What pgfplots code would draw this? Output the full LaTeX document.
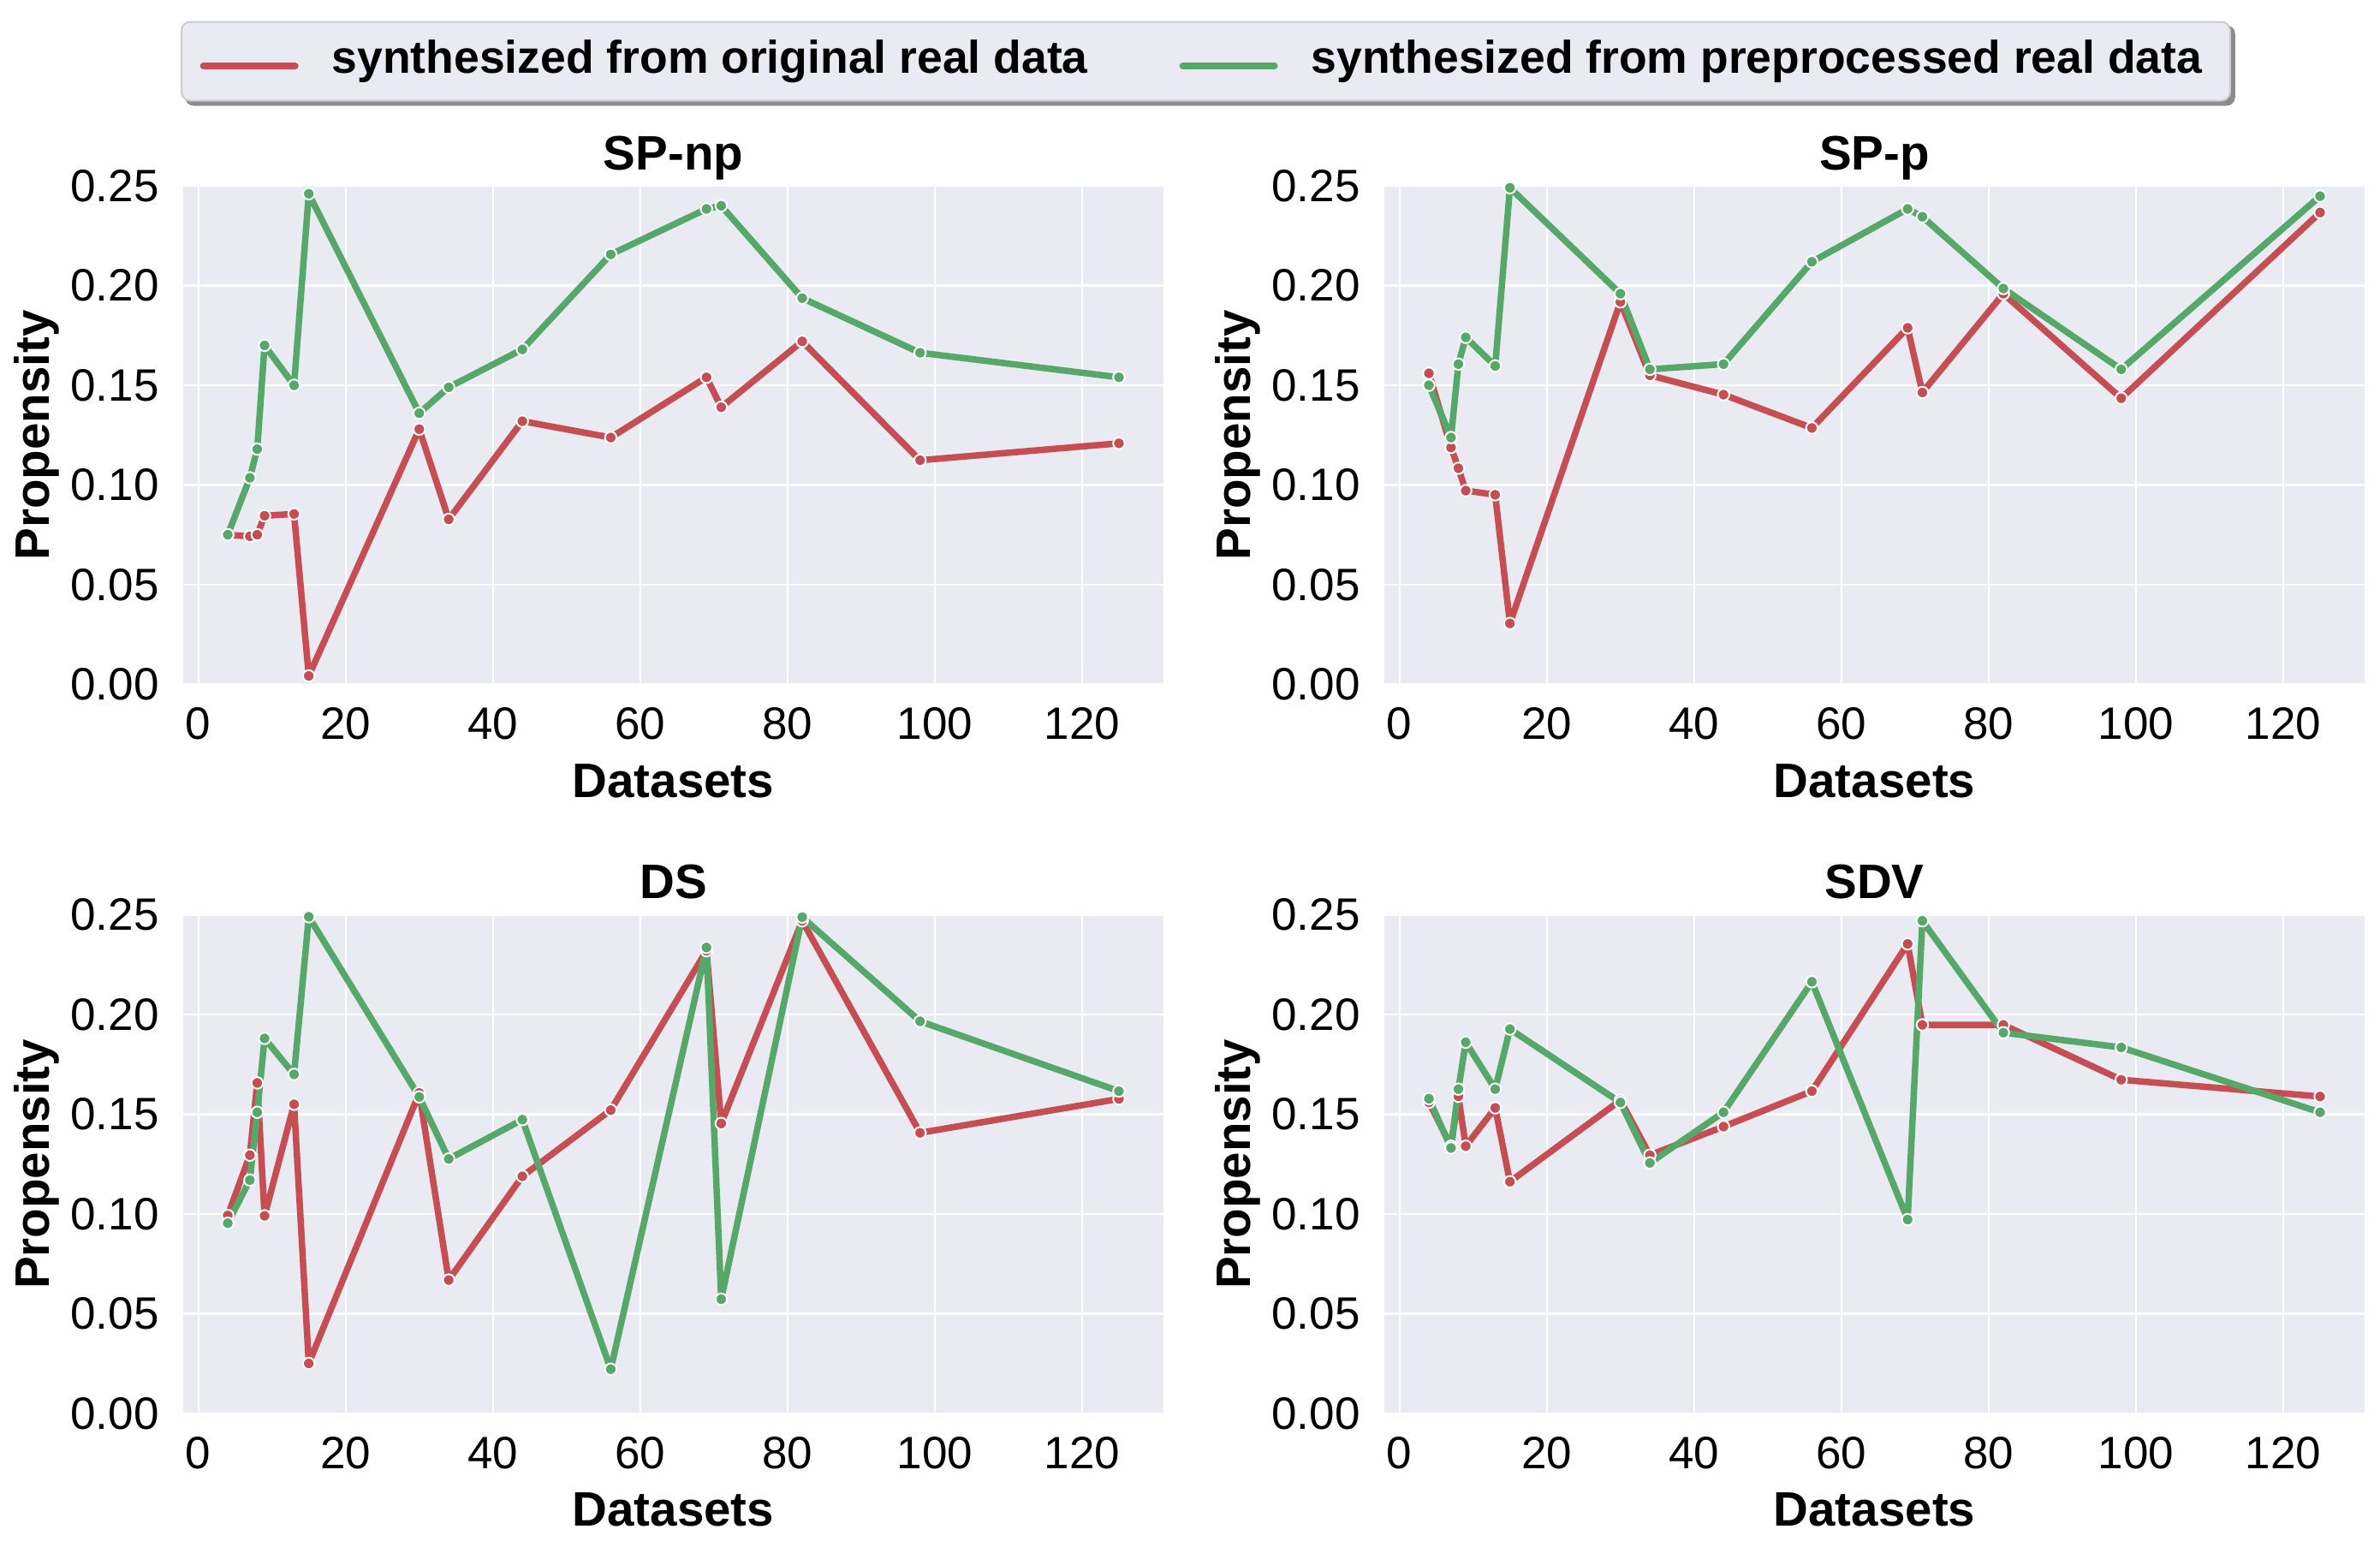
\documentclass[border=0pt]{standalone}
\usepackage{fontspec}
\setmainfont{Liberation Sans}
\usepackage{pgfplots}
\usepackage{pgfplotstable}
\pgfplotsset{compat=1.18}
\usetikzlibrary{backgrounds}

\definecolor{bgcol}{HTML}{EAEAF2}
\definecolor{sred}{HTML}{C44E52}
\definecolor{sgreen}{HTML}{55A868}

% propensity per dataset size; O = from original, P = from preprocessed
\pgfplotstableread{
x   npO     npP     pO      pP      dsO     dsP     sdvO    sdvP
4   0.0750  0.0751  0.1560  0.1500  0.0993  0.0954  0.1560  0.1578
7   0.0743  0.1036  0.1188  0.1238  0.1295  0.1170  0.1340  0.1331
8   0.0751  0.1180  0.1084  0.1606  0.1657  0.1510  0.1590  0.1626
9   0.0846  0.1700  0.0972  0.1740  0.0991  0.1880  0.1340  0.1861
13  0.0855  0.1500  0.0951  0.1597  0.1550  0.1700  0.1532  0.1626
15  0.0043  0.2460  0.0306  0.2490  0.0251  0.2490  0.1162  0.1927
30  0.1280  0.1360  0.1918  0.1959  0.1607  0.1587  0.1570  0.1559
34  0.0828  0.1490  0.1550  0.1580  0.0669  0.1276  0.1295  0.1256
44  0.1320  0.1680  0.1453  0.1606  0.1189  0.1473  0.1438  0.1510
56  0.1238  0.2156  0.1286  0.2119  0.1521  0.0222  0.1616  0.2164
69  0.1540  0.2384  0.1788  0.2384  0.2320  0.2336  0.2354  0.0972
71  0.1390  0.2400  0.1464  0.2345  0.1454  0.0573  0.1948  0.2470
82  0.1720  0.1937  0.1959  0.1985  0.2470  0.2488  0.1948  0.1909
98  0.1124  0.1663  0.1435  0.1580  0.1407  0.1966  0.1673  0.1835
125 0.1209  0.1540  0.2366  0.2448  0.1577  0.1616  0.1589  0.1510
}\data

\pgfplotsset{
  panel/.style={
    scale only axis, width=229pt, height=116.5pt,
    anchor=north west,
    xmin=-2.05, xmax=131.05, ymin=0, ymax=0.25,
    xtick={0,20,...,120}, ytick={0,0.05,0.1,0.15,0.2,0.25},
    /pgf/number format/assume math mode=true,
    axis background/.style={fill=bgcol},
    axis line style={draw=none}, tick style={draw=none}, major tick length=0pt,
    grid=major, major grid style={white, line width=0.45pt},
    ticklabel style={font=\fontsize{10.6}{12}\selectfont, inner sep=0pt},
    xticklabel style={anchor=north, yshift=-5.2pt},
    yticklabel style={anchor=east, xshift=-5.5pt,
      /pgf/number format/fixed, /pgf/number format/fixed zerofill,
      /pgf/number format/precision=2},
    every axis title/.style={at={(0.5,1)}, anchor=base, yshift=3.8pt, inner sep=0pt,
      font=\bfseries\fontsize{11.3}{13}\selectfont},
    every axis x label/.style={at={(axis description cs:0.5,0)}, anchor=base,
      yshift=-26.3pt, inner sep=0pt, font=\bfseries\fontsize{11.3}{13}\selectfont},
    every axis y label/.style={at={(axis description cs:0,0.5)}, xshift=-28.7pt,
      rotate=90, anchor=south, inner sep=0pt, font=\bfseries\fontsize{11.3}{13}\selectfont},
    xlabel={Datasets}, ylabel={Propensity},
  },
  orig/.style={sred, line width=1.5pt, line join=round, mark=*, mark size=1.35pt,
    mark options={fill=sred, draw=white, line width=0.4pt}},
  prep/.style={sgreen, line width=1.5pt, line join=round, mark=*, mark size=1.35pt,
    mark options={fill=sgreen, draw=white, line width=0.4pt}},
}

\begin{document}
\begin{tikzpicture}
\path[use as bounding box] (0,0) rectangle (556pt,-359.8pt);

\begin{axis}[panel, at={(42.8pt,-43.4pt)}, title={SP-np},
  legend columns=2,
  legend style={name=leg, at={(1.0432,1.2498)}, anchor=center,
    draw=black!20, fill=bgcol, rounded corners=2pt,
    inner xsep=4.3pt, inner ysep=4.2pt, /tikz/column sep=0pt,
    cells={anchor=west},
    font=\bfseries\fontsize{10.7}{12}\selectfont,
    nodes={inner sep=0pt, text height=7.8pt, text depth=2.2pt}},
  legend image code/.code={%
    \draw[#1, mark=none, line width=1.6pt, line cap=round] (0.8pt,-1.1pt) -- (22.2pt,-1.1pt);},
]
\addplot[orig] table[x=x, y=npO] {\data};
\addlegendentry{\rule{7.8pt}{0pt}synthesized from original real data\rule{21.4pt}{0pt}}
\addplot[prep] table[x=x, y=npP] {\data};
\addlegendentry{\rule{7.8pt}{0pt}synthesized from preprocessed real data\rule{2.2pt}{0pt}}
\end{axis}

% shadow behind the legend frame
\begin{pgfonlayer}{background}
\fill[black!45, rounded corners=2pt] ([shift={(1pt,-1pt)}]leg.south west) rectangle ([shift={(1pt,-1pt)}]leg.north east);
\end{pgfonlayer}

\begin{axis}[panel, at={(323.4pt,-43.4pt)}, title={SP-p}]
\addplot[orig] table[x=x, y=pO] {\data};
\addplot[prep] table[x=x, y=pP] {\data};
\end{axis}

\begin{axis}[panel, at={(42.8pt,-213.7pt)}, title={DS}]
\addplot[orig] table[x=x, y=dsO] {\data};
\addplot[prep] table[x=x, y=dsP] {\data};
\end{axis}

\begin{axis}[panel, at={(323.4pt,-213.7pt)}, title={SDV}]
\addplot[orig] table[x=x, y=sdvO] {\data};
\addplot[prep] table[x=x, y=sdvP] {\data};
\end{axis}
\end{tikzpicture}
\end{document}
